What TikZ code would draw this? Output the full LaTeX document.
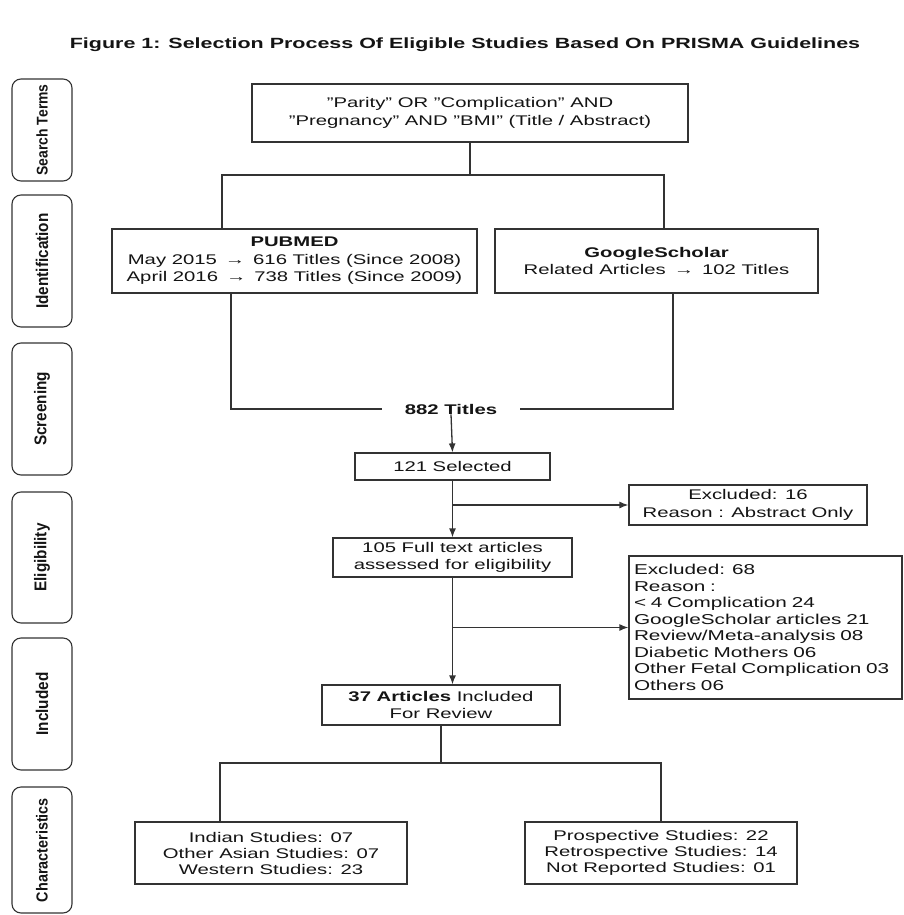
\documentclass[tikz,border=0pt]{standalone}
\usepackage{fontspec}
\setmainfont{Liberation Sans}[FakeStretch=1.45]
\newfontfamily\sidefont{Liberation Sans}[FakeStretch=0.9]
\usetikzlibrary{arrows.meta,calc}
\definecolor{ln}{HTML}{333333}
\definecolor{tx}{HTML}{141414}
\begin{document}
\begin{tikzpicture}[x=1pt,y=-1pt,
  every node/.style={text=tx},
  box/.style={draw=ln,line width=1.2pt,inner sep=0pt,align=center,font=\fontsize{14}{17.5}\selectfont},
  side/.style={draw=ln,line width=1.1pt,rounded corners=9pt,rotate=90,minimum height=60pt,inner sep=0pt,font=\sidefont\bfseries\fontsize{17}{19}\selectfont},
  conn/.style={draw=ln,line width=1.3pt},
  arr/.style={conn,-{Latex[length=9pt,width=7pt]}}]
\useasboundingbox (0,0) rectangle (903,915);
\fill[white] (0,0) rectangle (903,915);
% title
\node[font=\bfseries\fontsize{14.8}{17}\selectfont] (title) at (465,45) {Figure 1: Selection Process Of Eligible Studies Based On PRISMA Guidelines};
% side labels
\node[side,minimum width=102pt,font=\sidefont\bfseries\fontsize{15.5}{18}\selectfont] (s1) at (42,130) {Search Terms};
\node[side,minimum width=132pt] (s2) at (42,261) {Identification};
\node[side,minimum width=132pt] (s3) at (42,409) {Screening};
\node[side,minimum width=131pt] (s4) at (42,557.5) {Eligibility};
\node[side,minimum width=132pt] (s5) at (42,704) {Included};
\node[side,minimum width=126pt,font=\sidefont\bfseries\fontsize{16}{18}\selectfont] (s6) at (42,850) {Characteristics};
% boxes
\node[box,minimum width=436pt,minimum height=58pt] (top) at (470,113)
  {"Parity" OR "Complication" AND\\"Pregnancy" AND "BMI" (Title / Abstract)};
\node[box,minimum width=365pt,minimum height=64pt] (pub) at (294.5,261)
  {\textbf{PUBMED}\\May 2015 \,→\, 616 Titles (Since 2008)\\April 2016 \,→\, 738 Titles (Since 2009)};
\node[box,minimum width=323pt,minimum height=64pt] (goo) at (656.5,261)
  {\textbf{GoogleScholar}\\Related Articles \,→\, 102 Titles};
\node[font=\bfseries\fontsize{14}{17}\selectfont,inner sep=0pt,minimum width=138pt] (titles) at (451,409) {882 Titles};
\node[box,minimum width=195pt,minimum height=27pt] (sel) at (452.5,466.5) {121 Selected};
\node[box,minimum width=238pt,minimum height=40pt] (ex16) at (748,505)
  {Excluded: 16\\Reason : Abstract Only};
\node[box,minimum width=239pt,minimum height=39pt] (full) at (452.5,557.5)
  {105 Full text articles\\assessed for eligibility};
\node[box,minimum width=273pt,minimum height=143pt,text width=263pt,inner xsep=5pt,align=left,font=\fontsize{14.3}{16.5}\selectfont] (ex68) at (765.5,627.5)
  {Excluded: 68\\Reason :\\< 4 Complication 24\\GoogleScholar articles 21\\Review/Meta-analysis 08\\Diabetic Mothers 06\\Other Fetal Complication 03\\Others 06};
\node[box,minimum width=238pt,minimum height=40pt] (inc) at (441,705)
  {\textbf{37 Articles} Included\\For Review};
\node[box,minimum width=272pt,minimum height=62pt,font=\fontsize{14}{16}\selectfont] (lb) at (271,853)
  {Indian Studies: 07\\Other Asian Studies: 07\\Western Studies: 23};
\node[box,minimum width=272pt,minimum height=62pt,font=\fontsize{14}{16}\selectfont] (rb) at (661,853)
  {Prospective Studies: 22\\Retrospective Studies: 14\\Not Reported Studies: 01};
% helper coordinates
\coordinate (j1) at (470,175);
\coordinate (pl) at (222,175);
\coordinate (gl) at (664,175);
\coordinate (pd) at (231,293);
\coordinate (gd) at (673,293);
\coordinate (j2) at (441,763);
\coordinate (ll) at (220,763);
% connectors
\draw[conn] (top.south) -- (j1);
\draw[conn] (pub.north -| pl) -- (pl) -- (gl) -- (goo.north -| gl);
\draw[conn] (pd) |- (titles.west);
\draw[conn] (titles.east) -| (gd);
\draw[arr] (titles.south) -- (sel.north);
\draw[arr] (sel.south) -- (full.north);
\draw[arr] (sel.south |- ex16.west) -- (ex16.west);
\draw[arr] (full.south) -- (full.south |- inc.north);
\draw[arr] (full.south |- ex68.west) -- (ex68.west);
\draw[conn] (inc.south) -- (j2);
\draw[conn] (lb.north -| ll) -- (ll) -| (rb.north);
\end{tikzpicture}
\end{document}
